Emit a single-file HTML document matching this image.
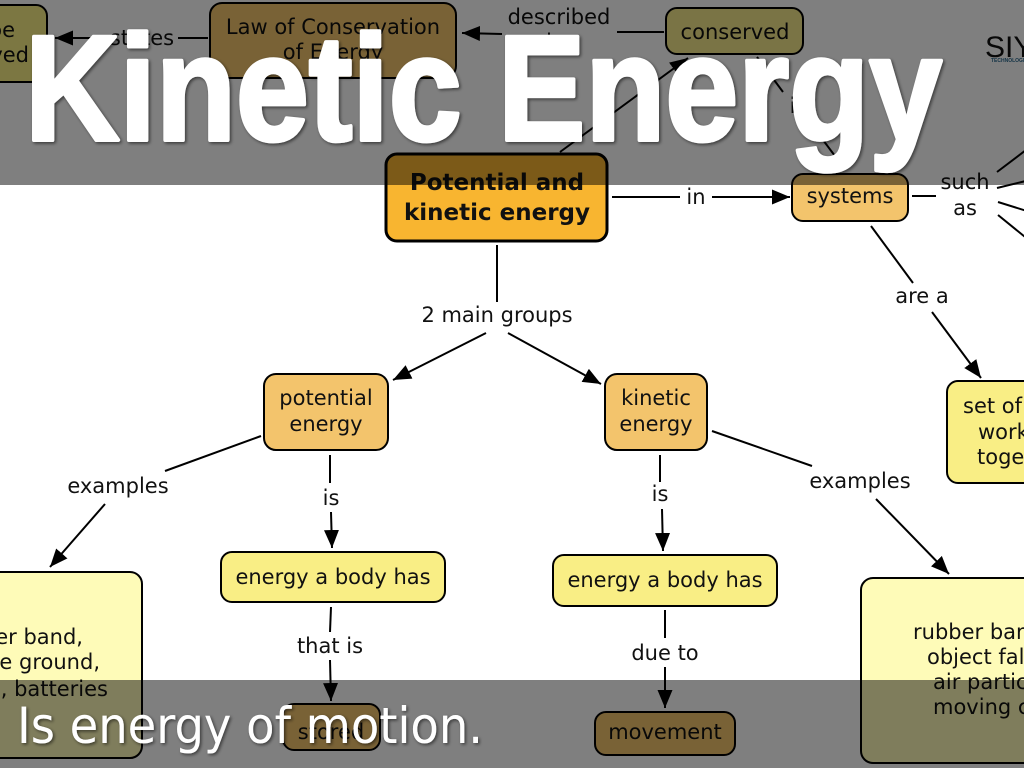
<!DOCTYPE html>
<html>
<head>
<meta charset="utf-8">
<style>
  html,body{margin:0;padding:0;background:#fff;}
  body{width:1024px;height:768px;overflow:hidden;}
  svg{display:block;}
  .t{font-family:"DejaVu Sans","Liberation Sans",sans-serif;font-size:21px;fill:#111;}
  .c{text-anchor:middle;}
</style>
</head>
<body>
<svg width="1024" height="768" viewBox="0 0 1024 768" xmlns="http://www.w3.org/2000/svg">
  <defs>
    <marker id="ah" markerUnits="userSpaceOnUse" markerWidth="20" markerHeight="16" refX="18" refY="7.5" orient="auto">
      <path d="M0,0 L18,7.5 L0,15 z" fill="#000"/>
    </marker>
    <filter id="sh" x="-5%" y="-20%" width="110%" height="140%">
      <feDropShadow dx="1.5" dy="1.5" stdDeviation="1.5" flood-color="#000" flood-opacity="0.55"/>
    </filter>
  </defs>

  <rect x="0" y="0" width="1024" height="768" fill="#fff"/>

  <!-- connectors -->
  <g stroke="#000" stroke-width="2" fill="none">
    <line x1="106" y1="38" x2="55" y2="38" marker-end="url(#ah)"/>
    <line x1="178" y1="38" x2="208" y2="38"/>
    <line x1="664" y1="32" x2="617" y2="32"/>
    <line x1="502" y1="34" x2="462" y2="33" marker-end="url(#ah)"/>
    <line x1="757" y1="57" x2="783" y2="92"/>
    <line x1="808" y1="120" x2="838" y2="160"/>
    <line x1="560" y1="152" x2="688" y2="58" marker-end="url(#ah)"/>
    <line x1="612" y1="197" x2="680" y2="197"/>
    <line x1="712" y1="197" x2="790" y2="197" marker-end="url(#ah)"/>
    <line x1="912" y1="196" x2="936" y2="196"/>
    <line x1="997" y1="172" x2="1030" y2="147"/>
    <line x1="997" y1="188" x2="1030" y2="180"/>
    <line x1="998" y1="202" x2="1030" y2="212"/>
    <line x1="998" y1="215" x2="1030" y2="241"/>
    <line x1="871" y1="226" x2="913" y2="283"/>
    <line x1="932" y1="312" x2="981" y2="378" marker-end="url(#ah)"/>
    <line x1="497" y1="245" x2="497" y2="302"/>
    <line x1="486" y1="333" x2="393" y2="380" marker-end="url(#ah)"/>
    <line x1="508" y1="333" x2="601" y2="384" marker-end="url(#ah)"/>
    <line x1="261" y1="436" x2="165" y2="471"/>
    <line x1="105" y1="504" x2="50" y2="567" marker-end="url(#ah)"/>
    <line x1="330" y1="455" x2="330" y2="483"/>
    <line x1="331" y1="512" x2="332" y2="548" marker-end="url(#ah)"/>
    <line x1="331" y1="607" x2="330" y2="632"/>
    <line x1="330" y1="660" x2="331" y2="701" marker-end="url(#ah)"/>
    <line x1="660" y1="455" x2="660" y2="482"/>
    <line x1="662" y1="509" x2="663" y2="551" marker-end="url(#ah)"/>
    <line x1="665" y1="610" x2="665" y2="638"/>
    <line x1="665" y1="667" x2="665" y2="708" marker-end="url(#ah)"/>
    <line x1="712" y1="431" x2="812" y2="466"/>
    <line x1="876" y1="499" x2="949" y2="574" marker-end="url(#ah)"/>
  </g>

  <!-- nodes -->
  <g stroke="#000" stroke-width="2">
    <rect x="-12" y="5" width="59" height="77" rx="11" fill="#f9ee85"/>
    <rect x="210" y="3" width="246" height="75" rx="12" fill="#f3c46c"/>
    <rect x="666" y="8" width="137" height="46" rx="11" fill="#f5e88a"/>
    <rect x="386" y="154" width="221" height="87" rx="11" fill="#f8b530" stroke-width="3"/>
    <rect x="792" y="174" width="116" height="47" rx="11" fill="#f3c46c"/>
    <rect x="947" y="381" width="90" height="102" rx="11" fill="#f9ee85"/>
    <rect x="264" y="374" width="124" height="76" rx="12" fill="#f3c46c"/>
    <rect x="605" y="374" width="102" height="76" rx="12" fill="#f3c46c"/>
    <rect x="221" y="552" width="224" height="50" rx="11" fill="#f9ee85"/>
    <rect x="553" y="555" width="224" height="51" rx="11" fill="#f9ee85"/>
    <rect x="-12" y="572" width="154" height="186" rx="12" fill="#fefbb8"/>
    <rect x="861" y="578" width="175" height="185" rx="12" fill="#fefbb8"/>
    <rect x="283" y="704" width="97" height="46" rx="11" fill="#f3c46c"/>
    <rect x="595" y="712" width="140" height="43" rx="11" fill="#f3c46c"/>
  </g>

  <!-- node text -->
  <g class="t">
    <text x="15" y="37" text-anchor="end">can't be</text>
    <text x="29" y="62" text-anchor="end">destroyed</text>
    <text class="c" x="333" y="34">Law of Conservation</text>
    <text class="c" x="333" y="59">of Energy</text>
    <text class="c" x="735" y="39">conserved</text>
    <text class="c" x="850" y="203">systems</text>
    <text x="963" y="413">set of parts</text>
    <text x="978" y="439">working</text>
    <text x="977" y="464">together</text>
    <text class="c" x="326" y="405">potential</text>
    <text class="c" x="326" y="431">energy</text>
    <text class="c" x="656" y="405">kinetic</text>
    <text class="c" x="656" y="431">energy</text>
    <text class="c" x="333" y="584">energy a body has</text>
    <text class="c" x="665" y="587">energy a body has</text>
    <text x="83" y="644" text-anchor="end">rubber band,</text>
    <text x="100" y="669" text-anchor="end">object on the ground,</text>
    <text x="108" y="696" text-anchor="end">food, batteries</text>
    <text x="913" y="639">rubber band</text>
    <text x="927" y="664">object falling</text>
    <text x="933" y="689">air particles</text>
    <text x="933" y="714">moving car</text>
    <text class="c" x="331" y="739">stored</text>
    <text class="c" x="665" y="739">movement</text>
  </g>
  <g style="font-family:'DejaVu Sans','Liberation Sans',sans-serif;font-weight:bold;font-size:23px;fill:#111;" text-anchor="middle">
    <text x="497" y="190">Potential and</text>
    <text x="497" y="220">kinetic energy</text>
  </g>

  <!-- connector labels -->
  <g class="t">
    <text class="c" x="142" y="45">states</text>
    <text class="c" x="559" y="24">described</text>
    <text class="c" x="559" y="49">by</text>
    <text class="c" x="798" y="113">is</text>
    <text class="c" x="696" y="204">in</text>
    <text class="c" x="965" y="189">such</text>
    <text class="c" x="965" y="215">as</text>
    <text class="c" x="922" y="303">are a</text>
    <text class="c" x="497" y="322">2 main groups</text>
    <text class="c" x="118" y="493">examples</text>
    <text class="c" x="331" y="505">is</text>
    <text class="c" x="330" y="653">that is</text>
    <text class="c" x="660" y="501">is</text>
    <text class="c" x="665" y="660">due to</text>
    <text class="c" x="860" y="488">examples</text>
  </g>

  <!-- logo -->
  <text x="985" y="57" style="font-family:'Liberation Sans',sans-serif;font-size:30px;fill:#111;">SIY</text>
  <text x="991" y="62" style="font-family:'Liberation Sans',sans-serif;font-size:5px;font-weight:bold;fill:#2d6a8e;">TECHNOLOGIES</text>

  <!-- overlays -->
  <rect x="0" y="0" width="1024" height="185" fill="rgba(0,0,0,0.5)"/>
  <rect x="0" y="680" width="1024" height="88" fill="rgba(0,0,0,0.5)"/>

  <!-- title -->
  <text x="25" y="140" textLength="917" lengthAdjust="spacingAndGlyphs"
        style="font-family:'Liberation Sans','DejaVu Sans',sans-serif;font-weight:bold;font-size:150px;fill:#fff;stroke:#fff;stroke-width:4;stroke-linejoin:round;"
        filter="url(#sh)">Kinetic Energy</text>

  <!-- subtitle -->
  <text x="17" y="743" textLength="466" lengthAdjust="spacingAndGlyphs"
        style="font-family:'DejaVu Sans','Liberation Sans',sans-serif;font-size:50px;fill:#fff;"
        filter="url(#sh)">Is energy of motion.</text>
</svg>
</body>
</html>
